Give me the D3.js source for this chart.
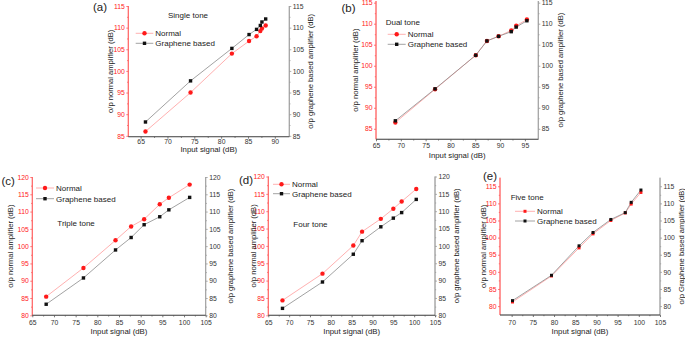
<!DOCTYPE html>
<html>
<head>
<meta charset="utf-8">
<script src="https://cdn.jsdelivr.net/npm/d3@7"></script>
<style>
  body { margin: 0; background: #fff; }
  svg { display: block; }
  text { font-family: "Liberation Sans", Arial, sans-serif; }
</style>
</head>
<body>
<svg class="chart" width="685" height="337"></svg>
<script>
// values
// (a) single tone
var xA = [65.9, 74.3, 82.0, 85.2, 86.6, 87.3, 87.6, 88.3];
var normalA = [86.0, 95.0, 104.0, 106.9, 108.0, 109.2, 109.8, 110.5];
var grapheneA = [88.2, 97.7, 105.2, 108.4, 109.6, 110.5, 111.3, 112.0];
// (b) dual tone
var xB = [68.9, 76.9, 85.1, 87.35, 89.7, 92.25, 93.25, 95.4];
var normalB = [86.5, 94.4, 102.5, 105.9, 107.0, 108.4, 109.5, 111.0];
var grapheneB = [86.9, 94.5, 102.5, 105.9, 107.0, 108.1, 109.2, 110.7];
// (c) triple tone
var xC = [68.2, 76.8, 84.2, 87.8, 90.8, 94.4, 96.5, 101.3];
var normalC = [85.4, 93.7, 101.7, 105.7, 107.8, 112.1, 114.0, 117.8];
var grapheneC = [83.2, 90.8, 98.9, 102.5, 106.2, 108.5, 110.5, 114.1];
// (d) four tone
var xD = [68.4, 78.0, 85.4, 87.5, 92.0, 95.0, 97.0, 100.5];
var normalD = [84.3, 92.0, 100.1, 104.1, 107.8, 110.7, 112.8, 116.4];
var grapheneD = [82.0, 89.6, 97.6, 101.5, 105.5, 108.0, 109.6, 113.4];
// (e) five tone
var xE = [70.2, 79.4, 85.9, 89.2, 93.4, 96.8, 98.2, 100.5];
var normalE = [81.2, 88.8, 97.0, 101.1, 105.0, 107.2, 109.8, 113.2];
var grapheneE = [81.6, 89.0, 97.6, 101.5, 105.3, 107.3, 110.3, 113.9];

var xTicksA = [65, 70, 75, 80, 85, 90];
var xTicksB = [65, 70, 75, 80, 85, 90, 95];
var xTicksCD = [65, 70, 75, 80, 85, 90, 95, 100, 105];
var xTicksE = [70, 75, 80, 85, 90, 95, 100, 105];
var yTicksAB = [85, 90, 95, 100, 105, 110, 115];
var yTicksCD = [80, 85, 90, 95, 100, 105, 110, 115, 120];
var yTicksE = [80, 85, 90, 95, 100, 105, 110, 115];

var panels = [
  {letter: "(a)", name: "Single tone", x: xA, normal: normalA, graphene: grapheneA,
   xTicks: xTicksA, yTicks: yTicksAB, xDom: [62.7, 92.7], yDom: [84.8, 115],
   box: [128.3, 6, 289.3, 136.7], letterPos: [93, 11], namePos: [168, 15.5],
   leg: [135.7, 153.3, 33.3, 43.3], xPad: 0.5, xTitleY: 151.5, yTitleL: 110, yTitleR: 310,
   rightTitle: "o/p graphene based amplifier (dB)", redMarker: "circle"},
  {letter: "(b)", name: "Dual tone", x: xB, normal: normalB, graphene: grapheneB,
   xTicks: xTicksB, yTicks: yTicksAB, xDom: [65, 97.7], yDom: [82.5, 115.4],
   box: [376, 1, 538.3, 139.3], letterPos: [341.5, 12], namePos: [385.7, 22],
   leg: [387.7, 405.7, 34.3, 44.3], xPad: 1.5, xTitleY: 158, yTitleL: 355, yTitleR: 560,
   rightTitle: "o/p graphene based amplifier (dB)", redMarker: "circle"},
  {letter: "(c)", name: "Triple tone", x: xC, normal: normalC, graphene: grapheneC,
   xTicks: xTicksCD, yTicks: yTicksCD, xDom: [65, 105], yDom: [80, 120],
   box: [32.3, 177, 205.7, 315.3], letterPos: [1.5, 185], namePos: [57.3, 223],
   leg: [36, 54, 188, 198.7], xPad: 3, xTitleY: 334.3, yTitleL: 10, yTitleR: 230,
   rightTitle: "o/p graphene based amplifier (dB)", redMarker: "circle"},
  {letter: "(d)", name: "Four tone", x: xD, normal: normalD, graphene: grapheneD,
   xTicks: xTicksCD, yTicks: yTicksCD, xDom: [65, 105], yDom: [80, 120],
   box: [268.3, 176.5, 435, 315.3], letterPos: [239, 183.5], namePos: [293.3, 224.5],
   leg: [273, 290, 184.3, 193.7], xPad: 3, xTitleY: 334.3, yTitleL: 253.3, yTitleR: 456.7,
   rightTitle: "o/p graphene based amplifier (dB)", redMarker: "circle"},
  {letter: "(e)", name: "Five tone", x: xE, normal: normalE, graphene: grapheneE,
   xTicks: xTicksE, yTicks: yTicksE, xDom: [67.25, 105], yDom: [77.4, 117.5],
   box: [500, 177.7, 660, 315], letterPos: [483, 179.5], namePos: [510.7, 197],
   leg: [515, 535, 211.3, 221], xPad: 3, xTitleY: 334.3, yTitleL: 483.3, yTitleR: 681.5,
   rightTitle: "o/p Graphene based amplifier (dB)", redMarker: "square"}
];

var red = "#ff1a1a", redLine = "#ff9c9c", redAxis = "#ff5a5a";
var black = "#111", greyLine = "#8a8a8a";
var tickFont = 6.8;

var svg = d3.select(".chart");

function minorOf(ticks) {
  var step = ticks[1] - ticks[0], out = [];
  ticks.forEach(function (t, i) { if (i < ticks.length - 1) out.push(t + step / 2); });
  return out;
}

function marker(g, kind, cx, cy, color) {
  if (kind === "circle") {
    g.append("circle").attr("cx", cx).attr("cy", cy).attr("r", 2.2).attr("fill", color);
  } else {
    var s = kind === "small" ? 3 : 3.4;
    g.append("rect").attr("x", cx - s / 2).attr("y", cy - s / 2)
      .attr("width", s).attr("height", s).attr("fill", color);
  }
}

panels.forEach(function (p) {
  var b = p.box;
  var x = d3.scaleLinear().domain(p.xDom).range([b[0], b[2]]);
  var y = d3.scaleLinear().domain(p.yDom).range([b[3], b[1]]);
  var g = svg.append("g");

  // axes
  var left = g.append("g").attr("transform", "translate(" + b[0] + ",0)")
    .call(d3.axisLeft(y).tickValues(p.yTicks).tickSize(2).tickSizeOuter(0).tickPadding(1.5));
  left.append("g").call(d3.axisLeft(y).tickValues(minorOf(p.yTicks)).tickSize(1.2).tickFormat(""));
  left.selectAll("path,line").attr("stroke", redAxis).attr("stroke-width", 0.8);
  left.selectAll("text").attr("fill", red).attr("font-size", tickFont).attr("font-family", null);
  left.selectAll(".domain").attr("d", "M0," + b[3] + "V" + b[1]);

  var right = g.append("g").attr("transform", "translate(" + b[2] + ",0)")
    .call(d3.axisRight(y).tickValues(p.yTicks).tickSize(2).tickSizeOuter(0).tickPadding(1.5));
  right.append("g").call(d3.axisRight(y).tickValues(minorOf(p.yTicks)).tickSize(1.2).tickFormat(""));
  right.selectAll("path,line").attr("stroke", "#9a9a9a").attr("stroke-width", 0.8);
  right.selectAll("text").attr("fill", "#333").attr("font-size", tickFont).attr("font-family", null);
  right.selectAll(".domain").attr("d", "M0," + b[3] + "V" + b[1]);

  var bottom = g.append("g").attr("transform", "translate(0," + b[3] + ")")
    .call(d3.axisBottom(x).tickValues(p.xTicks).tickSize(2).tickSizeOuter(0).tickPadding(p.xPad));
  bottom.append("g").call(d3.axisBottom(x).tickValues(minorOf(p.xTicks)).tickSize(1.2).tickFormat(""));
  bottom.selectAll("path,line").attr("stroke", "#555").attr("stroke-width", 0.8);
  bottom.selectAll("text").attr("fill", "#333").attr("font-size", tickFont).attr("font-family", null);
  bottom.selectAll(".domain").attr("d", "M" + b[0] + ",0H" + b[2]);

  // lines
  var line = d3.line().x(function (d) { return x(d[0]); }).y(function (d) { return y(d[1]); });
  var ptsN = p.x.map(function (v, i) { return [v, p.normal[i]]; });
  var ptsG = p.x.map(function (v, i) { return [v, p.graphene[i]]; });
  g.append("path").attr("d", line(ptsN)).attr("fill", "none").attr("stroke", redLine).attr("stroke-width", 0.8);
  g.append("path").attr("d", line(ptsG)).attr("fill", "none").attr("stroke", greyLine).attr("stroke-width", 0.8);

  var redKind = p.redMarker === "circle" ? "circle" : "small";
  var blkKind = p.redMarker === "circle" ? "square" : "small";
  ptsN.forEach(function (d) { marker(g, redKind, x(d[0]), y(d[1]), red); });
  ptsG.forEach(function (d) { marker(g, blkKind, x(d[0]), y(d[1]), black); });

  // legend
  var L = p.leg, mid = (L[0] + L[1]) / 2;
  g.append("line").attr("x1", L[0]).attr("x2", L[1]).attr("y1", L[2]).attr("y2", L[2])
    .attr("stroke", redLine).attr("stroke-width", 0.8);
  marker(g, redKind, mid, L[2], red);
  g.append("line").attr("x1", L[0]).attr("x2", L[1]).attr("y1", L[3]).attr("y2", L[3])
    .attr("stroke", greyLine).attr("stroke-width", 0.8);
  marker(g, blkKind, mid, L[3], black);
  g.append("text").attr("x", L[1] + 2).attr("y", L[2]).attr("dy", "0.35em")
    .attr("font-size", 8).attr("fill", "#222").text("Normal");
  g.append("text").attr("x", L[1] + 2).attr("y", L[3]).attr("dy", "0.35em")
    .attr("font-size", 8).attr("fill", "#222").text("Graphene based");

  g.append("text").attr("x", p.namePos[0]).attr("y", p.namePos[1]).attr("dy", "0.35em")
    .attr("font-size", 8).attr("fill", "#222").text(p.name);

  g.append("text").attr("x", p.letterPos[0]).attr("y", p.letterPos[1])
    .attr("font-size", 11.5).attr("fill", "#222").text(p.letter);

  // axis titles
  g.append("text").attr("x", (b[0] + b[2]) / 2).attr("y", p.xTitleY)
    .attr("text-anchor", "middle").attr("font-size", 7.8).attr("fill", "#222")
    .text("Input signal (dB)");
  var my = (b[1] + b[3]) / 2;
  g.append("text").attr("transform", "translate(" + p.yTitleL + "," + my + ") rotate(-90)")
    .attr("text-anchor", "middle").attr("dy", "0.35em").attr("font-size", 7.6).attr("fill", "#222")
    .text("o/p normal amplifier (dB)");
  g.append("text").attr("transform", "translate(" + p.yTitleR + "," + my + ") rotate(-90)")
    .attr("text-anchor", "middle").attr("dy", "0.35em").attr("font-size", 7.6).attr("fill", "#222")
    .text(p.rightTitle);
});
</script>
</body>
</html>
